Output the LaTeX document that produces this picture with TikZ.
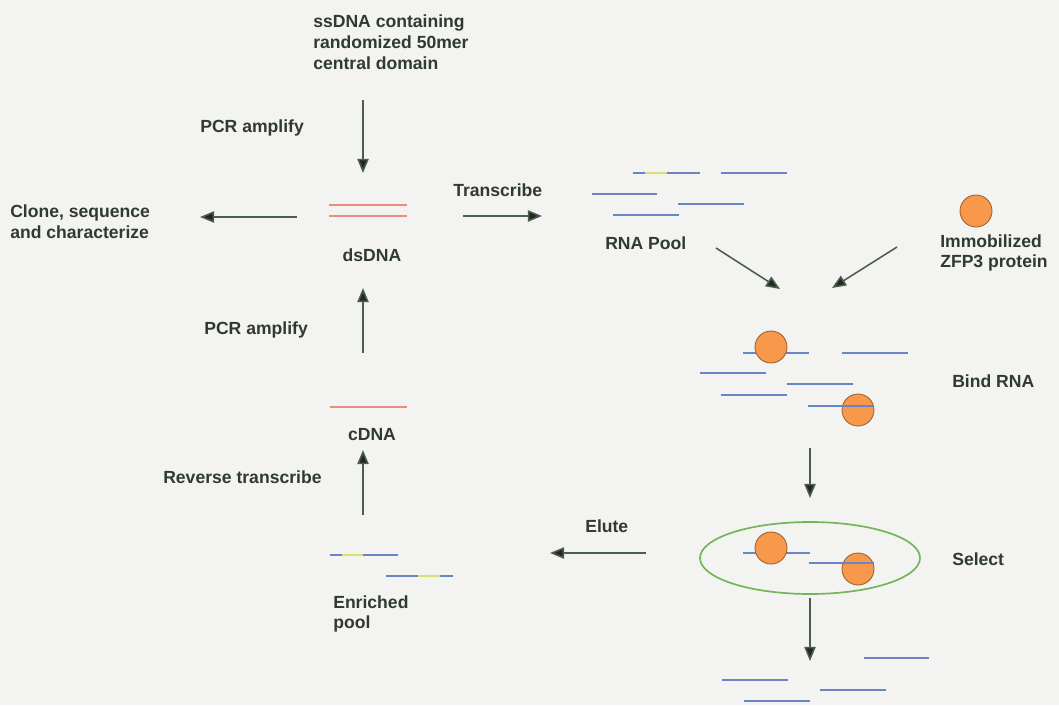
\documentclass[tikz,border=0pt]{standalone}
\usepackage{fontspec}
\setmainfont{Liberation Sans}
\usetikzlibrary{arrows.meta}

\definecolor{bgcol}{HTML}{F3F3F1}
\definecolor{txtcol}{HTML}{2F3A30}
\definecolor{arrcol}{HTML}{4A5E48}
\definecolor{rnablue}{HTML}{6A84C8}
\definecolor{dnared}{HTML}{F08A7A}
\definecolor{loopyel}{HTML}{D6E070}
\definecolor{protfill}{HTML}{F8984A}
\definecolor{protedge}{HTML}{9A6030}
\definecolor{selgreen}{HTML}{74B45A}

\tikzset{
	lbl/.style={font=\fontsize{12.5}{14.8}\selectfont\bfseries, text=txtcol, align=left, anchor=west, inner sep=0pt},
	arr/.style={draw=arrcol, line width=1.1pt, -{Triangle[length=10pt,width=8pt,fill=black!85]}},
	rna/.style={draw=rnablue, line width=1.5pt},
	dna/.style={draw=dnared, line width=1.5pt},
	loop/.style={draw=loopyel, line width=1.5pt},
	prot/.style={circle, draw=protedge, line width=0.6pt, fill=protfill, minimum size=0.8cm, inner sep=0pt}
}

\begin{document}
\begin{tikzpicture}[x=0.025cm, y=-0.025cm]
	\fill[bgcol] (0,0) rectangle (1059,705);

	%% Linke Spalte: DNA
	\node[lbl] (ssdna) at (313,42) {ssDNA containing\\randomized 50mer\\central domain};
	\node[lbl] (pcr1) at (200,128) {PCR amplify};
	\node[lbl] (clone) at (10,222) {Clone, sequence\\and characterize};
	\node[lbl, anchor=center] (dsdna) at (372,255) {dsDNA};
	\node[lbl] (pcr2) at (204,330) {PCR amplify};
	\node[lbl, anchor=center] (cdna) at (372,435) {cDNA};
	\node[lbl] (rt) at (163,477) {Reverse transcribe};
	\node[lbl] (enr) at (333,614) {Enriched\\pool};

	\draw[dna] (329,205) -- (407,205);
	\draw[dna] (329,216) -- (407,216);
	\draw[dna] (330,407) -- (407,407);

	%% Enriched pool
	\draw[rna] (330,555) -- (342,555);
	\draw[loop] (342,555) -- (363,555);
	\draw[rna] (363,555) -- (398,555);
	\draw[rna] (386,576) -- (418,576);
	\draw[loop] (418,576) -- (440,576);
	\draw[rna] (440,576) -- (453,576);

	\coordinate (a1s) at (363,100);
	\coordinate (a1e) at (363,173);
	\coordinate (a2s) at (297,217);
	\coordinate (a2e) at (200,217);
	\coordinate (a3s) at (463,216);
	\coordinate (a3e) at (542,216);
	\coordinate (a4s) at (363,353);
	\coordinate (a4e) at (363,288);
	\coordinate (a5s) at (363,515);
	\coordinate (a5e) at (363,450);

	\draw[arr] (a1s) -- (a1e);
	\draw[arr] (a2s) -- (a2e);
	\draw[arr] (a3s) -- (a3e);
	\draw[arr] (a4s) -- (a4e);
	\draw[arr] (a5s) -- (a5e);

	%% Rechte Spalte: RNA
	\node[lbl] (trans) at (453,190) {Transcribe};
	\node[lbl] (pool) at (605,243) {RNA Pool};
	\node[lbl] (immo) at (940,253) {Immobilized\\ZFP3 protein};
	\node[lbl] (bind) at (952,381) {Bind RNA};
	\node[lbl] (elute) at (585,526) {Elute};
	\node[lbl] (sel) at (952,559) {Select};

	%% RNA Pool
	\draw[rna] (633,173) -- (645,173);
	\draw[loop] (645,173) -- (667,173);
	\draw[rna] (667,173) -- (700,173);
	\draw[rna] (721,173) -- (787,173);
	\draw[rna] (592,194) -- (657,194);
	\draw[rna] (678,204) -- (744,204);
	\draw[rna] (613,215) -- (679,215);

	\node[prot] (p0) at (976,211) {};

	%% Bind RNA
	\draw[rna] (743,353) -- (809,353);
	\node[prot] (p1) at (771,347) {};
	\draw[rna] (842,353) -- (908,353);
	\draw[rna] (700,373) -- (766,373);
	\draw[rna] (787,384) -- (853,384);
	\draw[rna] (721,395) -- (787,395);
	\node[prot] (p2) at (858,410) {};
	\draw[rna] (808,406) -- (873,406);

	%% Select
	\draw[selgreen, line width=1.2pt] (810,558) ellipse [x radius=110, y radius=36];
	\draw[rna] (743,553) -- (810,553);
	\node[prot] (p3) at (771,548) {};
	\node[prot] (p4) at (858,569) {};
	\draw[rna] (809,563) -- (874,563);

	%% Rest
	\draw[rna] (864,658) -- (929,658);
	\draw[rna] (722,680) -- (788,680);
	\draw[rna] (820,690) -- (886,690);
	\draw[rna] (744,701) -- (810,701);

	\coordinate (b1s) at (716,248);
	\coordinate (b1e) at (780,289);
	\coordinate (b2s) at (897,247);
	\coordinate (b2e) at (832,288);
	\coordinate (b3s) at (810,448);
	\coordinate (b3e) at (810,498);
	\coordinate (b4s) at (646,553);
	\coordinate (b4e) at (550,553);
	\coordinate (b5s) at (810,598);
	\coordinate (b5e) at (810,661);

	\draw[arr] (b1s) -- (b1e);
	\draw[arr] (b2s) -- (b2e);
	\draw[arr] (b3s) -- (b3e);
	\draw[arr] (b4s) -- (b4e);
	\draw[arr] (b5s) -- (b5e);
\end{tikzpicture}
\end{document}
